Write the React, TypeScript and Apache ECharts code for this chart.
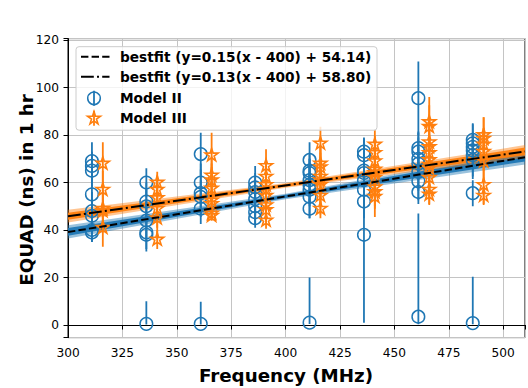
import React, { useEffect, useRef } from 'react';
import * as echarts from 'echarts';

const xMin = 300;
const xMax = 510;
const yMin = -5.3;
const yMax = 120.6;

const fitX = [300, 510];
const fitIIY = [39.14, 70.64];
const fitIIIY = [45.8, 73.1];

const bandX = [300, 400, 510];
const bandIIOuterLow = [36.4, 53.0, 67.6];
const bandIIOuterHigh = [42.0, 55.3, 73.6];
const bandIIInnerLow = [37.6, 53.5, 68.9];
const bandIIInnerHigh = [40.8, 54.8, 72.4];
const bandIIIOuterLow = [43.2, 57.8, 70.4];
const bandIIIOuterHigh = [48.5, 59.8, 75.8];
const bandIIIInnerLow = [44.3, 58.2, 71.5];
const bandIIIInnerHigh = [47.3, 59.4, 74.7];

const modelIIFreqs = [311, 336, 361, 386, 411, 436, 461, 486];
const modelIIValues = [
  [69, 67, 65, 55, 48, 46, 40, 39],
  [60, 52, 50, 44, 39, 38, 0.5],
  [72, 60, 55.5, 54, 49, 0.5],
  [60, 58, 56, 53, 50, 47.5, 45],
  [69.5, 65, 64, 61, 59, 57, 54, 49, 1],
  [73, 71.5, 65, 64, 61, 57, 52, 38],
  [95.5, 74.5, 73, 70, 68, 64.5, 60.5, 56, 3.5],
  [78, 76.5, 75, 73.5, 71.5, 69.5, 55.5, 0.8],
];
const modelIIErrLow = [
  [8, 6, 7, 9, 8, 7, 5, 4],
  [6, 8, 7, 8, 8, 6, 0.3],
  [9, 8, 10, 7, 6.5, 0.3],
  [7, 6, 5, 7, 6, 5, 4],
  [7.5, 7, 6, 9, 8, 7, 9, 4, 0.6],
  [6, 7, 8, 6, 9, 8, 7, 37],
  [15.5, 7, 8, 9, 7, 8, 8, 5, 3.2],
  [7, 8, 6, 7, 9, 8, 5.5, 0.5],
];
const modelIIErrHigh = [
  [8, 6, 7, 9, 8, 7, 5, 4],
  [6, 8, 7, 8, 8, 6, 9.5],
  [9, 8, 10, 7, 6.5, 9.3],
  [7, 6, 5, 7, 6, 5, 4],
  [7.5, 7, 6, 9, 8, 7, 9, 4, 19],
  [6, 7, 8, 6, 9, 8, 7, 37],
  [15.5, 7, 8, 9, 7, 8, 8, 5, 43.5],
  [7, 8, 6, 7, 9, 8, 5.5, 19.5],
];

const modelIIIFreqs = [316, 341, 366, 391, 416, 441, 466, 491];
const modelIIIValues = [
  [68, 57, 49, 48, 41],
  [60, 57, 53.5, 49, 45, 36],
  [71.5, 63, 61, 57.5, 52.5, 51, 47, 46],
  [67, 62.5, 59, 57, 54.5, 50.5, 48.5, 44],
  [76.5, 68, 66.5, 62.5, 61, 59, 54.5, 49],
  [76, 72.5, 69, 65.5, 64, 62, 58, 56, 54],
  [85.5, 83.5, 77, 75, 72.5, 69.5, 67.5, 66, 62, 57, 55],
  [80, 78.5, 76, 73, 69, 59, 54.5],
];
const modelIIIErr = [
  [9, 8, 10, 8, 8],
  [4.5, 6, 7, 8, 9, 4],
  [9.5, 8, 7, 9, 8, 6, 3, 2],
  [7, 6, 8, 5, 8, 6, 5, 3.5],
  [7, 8, 9, 10, 8, 9, 8, 4],
  [6, 7, 8, 9, 7, 9, 8, 7, 8.5],
  [10.5, 9, 8, 7, 8, 9, 7, 8, 8, 6, 4.5],
  [7.5, 9, 7, 8, 9, 8, 4],
];

const legendLabels = [
  'bestfit (y=0.15(x - 400) + 54.14)',
  'bestfit (y=0.13(x - 400) + 58.80)',
  'Model II',
  'Model III',
];

const BLUE = '#1f77b4';
const ORANGE = '#ff7f0e';
const FONT = 'DejaVu Sans';

function starPoints(cx: number, cy: number, R: number) {
  const pts: number[][] = [];
  for (let k = 0; k < 10; k++) {
    const a = -Math.PI / 2 + (k * Math.PI) / 5;
    const r = k % 2 === 0 ? R : R * 0.382;
    pts.push([cx + r * Math.cos(a), cy + r * Math.sin(a)]);
  }
  return pts;
}

function buildErr(freqs: number[], vals: number[][], lo: number[][], hi: number[][]) {
  const out: number[][] = [];
  freqs.forEach((f, i) => {
    vals[i].forEach((v, j) => {
      out.push([f, v, v - lo[i][j], v + hi[i][j]]);
    });
  });
  return out;
}

function errSeries(data: number[][], color: string, marker: 'circle' | 'star') {
  return {
    type: 'custom',
    silent: true,
    clip: true,
    data,
    encode: { x: 0, y: 1 },
    renderItem: (params: any, api: any) => {
      const x = api.value(0);
      const y = api.value(1);
      const p = api.coord([x, y]);
      const pl = api.coord([x, api.value(2)]);
      const ph = api.coord([x, api.value(3)]);
      const children: any[] = [
        {
          type: 'line',
          shape: { x1: p[0], y1: pl[1], x2: p[0], y2: ph[1] },
          style: { stroke: color, lineWidth: 1.8 },
        },
      ];
      if (marker === 'circle') {
        children.push({
          type: 'circle',
          shape: { cx: p[0], cy: p[1], r: 6.3 },
          style: { fill: 'none', stroke: color, lineWidth: 1.5 },
        });
      } else {
        children.push({
          type: 'polygon',
          shape: { points: starPoints(p[0], p[1], 6.8) },
          style: { fill: 'none', stroke: color, lineWidth: 1.6 },
        });
      }
      return { type: 'group', children };
    },
  };
}

function bandSeries(low: number[], high: number[], color: string, opacity: number) {
  return {
    type: 'custom',
    silent: true,
    clip: true,
    data: bandX.map((x, i) => [x, low[i], high[i]]),
    encode: { x: 0, y: 1 },
    renderItem: (params: any, api: any) => {
      if (params.dataIndex !== 0) return null;
      const pts: number[][] = [];
      bandX.forEach((x, i) => pts.push(api.coord([x, high[i]])));
      for (let i = bandX.length - 1; i >= 0; i--) pts.push(api.coord([bandX[i], low[i]]));
      return {
        type: 'polygon',
        shape: { points: pts },
        style: { fill: color, opacity },
      };
    },
  };
}

export default function App() {
  const ref = useRef<HTMLDivElement>(null);
  useEffect(() => {
    const chart = echarts.init(ref.current!, null, { renderer: 'svg' });
    const gridLeft = 68;
    const gridTop = 38.6;
    const gridW = 459;
    const gridH = 299;

    const legX = 76;
    const legY = 46.7;
    const rows = [56.7, 76.7, 98.3, 118.3];
    const hx1 = 81;
    const hx2 = 109.5;
    const hc = 94;
    const tx = 120;

    const graphic: any[] = [
      {
        type: 'rect',
        z: 100,
        shape: { x: legX, y: legY, width: 301, height: 83.5, r: 3 },
        style: { fill: 'rgba(255,255,255,0.8)', stroke: '#cccccc', lineWidth: 1 },
      },
      {
        type: 'line',
        z: 101,
        shape: { x1: hx1, y1: rows[0], x2: hx2, y2: rows[0] },
        style: { stroke: '#000', lineWidth: 2, lineDash: [7.4, 3.2] },
      },
      {
        type: 'line',
        z: 101,
        shape: { x1: hx1, y1: rows[1], x2: hx2, y2: rows[1] },
        style: { stroke: '#000', lineWidth: 2, lineDash: [12.8, 3.2, 2, 3.2] },
      },
      {
        type: 'line',
        z: 101,
        shape: { x1: hc, y1: rows[2] - 7.5, x2: hc, y2: rows[2] + 7.5 },
        style: { stroke: BLUE, lineWidth: 1.8 },
      },
      {
        type: 'circle',
        z: 101,
        shape: { cx: hc, cy: rows[2], r: 6.3 },
        style: { fill: 'none', stroke: BLUE, lineWidth: 1.5 },
      },
      {
        type: 'line',
        z: 101,
        shape: { x1: hc, y1: rows[3] - 7.5, x2: hc, y2: rows[3] + 7.5 },
        style: { stroke: ORANGE, lineWidth: 1.8 },
      },
      {
        type: 'polygon',
        z: 101,
        shape: { points: starPoints(hc, rows[3], 6.8) },
        style: { fill: 'none', stroke: ORANGE, lineWidth: 1.6 },
      },
      ...legendLabels.map((t, i) => ({
        type: 'text',
        z: 101,
        x: tx,
        y: rows[i],
        style: {
          text: t,
          fill: '#000',
          font: `bold 13.7px "${FONT}"`,
          verticalAlign: 'middle',
        },
      })),
      {
        type: 'text',
        x: 286,
        y: 375,
        style: {
          text: 'Frequency (MHz)',
          fill: '#000',
          font: `bold 18.3px "${FONT}"`,
          align: 'center',
          verticalAlign: 'middle',
        },
      },
      {
        type: 'text',
        x: 26,
        y: 190,
        rotation: Math.PI / 2,
        style: {
          text: 'EQUAD (ns) in 1 hr',
          fill: '#000',
          font: `bold 18.3px "${FONT}"`,
          align: 'center',
          verticalAlign: 'middle',
        },
      },
    ];

    const option: any = {
      animation: false,
      backgroundColor: '#fff',
      grid: {
        left: gridLeft,
        top: gridTop,
        width: gridW,
        height: gridH,
        show: true,
        borderColor: '#000',
        borderWidth: 1,
        backgroundColor: 'transparent',
      },
      xAxis: {
        type: 'value',
        min: xMin,
        max: xMax,
        interval: 25,
        axisLine: { show: true, lineStyle: { color: '#000', width: 1 } },
        axisTick: { show: true, length: 4.5, lineStyle: { color: '#000', width: 1 } },
        axisLabel: {
          color: '#000',
          fontFamily: FONT,
          fontSize: 12.2,
          margin: 9,
          formatter: (v: number) => (Math.abs(v % 25) < 1e-6 ? String(v) : ''),
        },
        splitLine: { show: true, lineStyle: { color: '#c4c4c4', width: 1 } },
      },
      yAxis: {
        type: 'value',
        min: yMin,
        max: yMax,
        splitNumber: 6,
        axisLine: { show: true, lineStyle: { color: '#000', width: 1 } },
        axisTick: { show: true, length: 4.5, lineStyle: { color: '#000', width: 1 } },
        axisLabel: {
          color: '#000',
          fontFamily: FONT,
          fontSize: 12.2,
          margin: 9,
          formatter: (v: number) => (Math.abs(v % 20) < 1e-6 ? String(v) : ''),
        },
        splitLine: { show: true, lineStyle: { color: '#c4c4c4', width: 1 } },
      },
      series: [
        bandSeries(bandIIOuterLow, bandIIOuterHigh, BLUE, 0.45),
        bandSeries(bandIIInnerLow, bandIIInnerHigh, BLUE, 0.95),
        bandSeries(bandIIIOuterLow, bandIIIOuterHigh, ORANGE, 0.45),
        bandSeries(bandIIIInnerLow, bandIIIInnerHigh, ORANGE, 0.95),
        {
          type: 'line',
          silent: true,
          showSymbol: false,
          data: fitX.map((x, i) => [x, fitIIY[i]]),
          lineStyle: { color: '#000', width: 2, type: [7.4, 3.2] },
        },
        {
          type: 'line',
          silent: true,
          showSymbol: false,
          data: fitX.map((x, i) => [x, fitIIIY[i]]),
          lineStyle: { color: '#000', width: 2, type: [12.8, 3.2, 2, 3.2] },
        },
        errSeries(buildErr(modelIIFreqs, modelIIValues, modelIIErrLow, modelIIErrHigh), BLUE, 'circle'),
        errSeries(buildErr(modelIIIFreqs, modelIIIValues, modelIIIErr, modelIIIErr), ORANGE, 'star'),
      ],
      graphic,
    };
    chart.setOption(option);
    return () => chart.dispose();
  }, []);
  return (
    <div
      ref={ref}
      style={{ position: 'absolute', left: 0, top: 0, width: 528, height: 388 }}
    />
  );
}
